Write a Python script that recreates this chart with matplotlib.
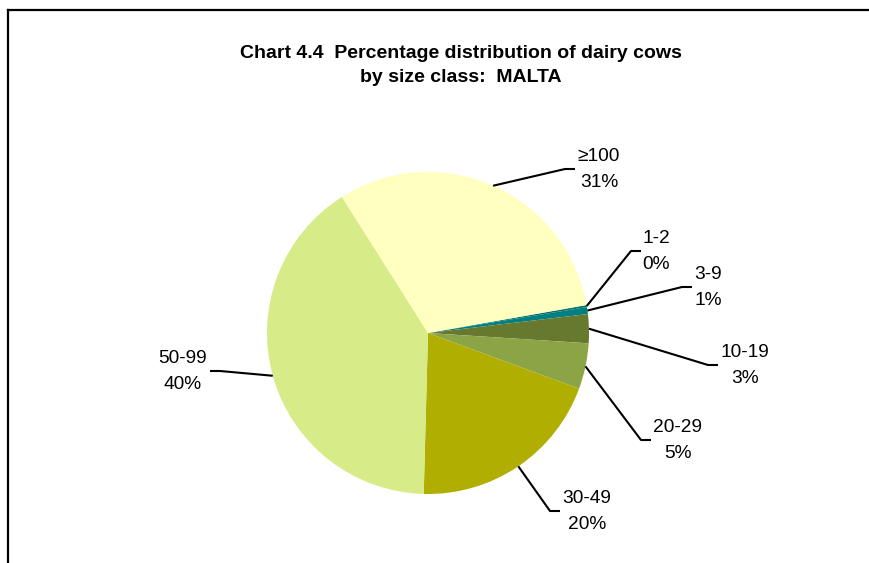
import numpy as np
import matplotlib
matplotlib.use("Agg")
import matplotlib.pyplot as plt
from matplotlib.lines import Line2D

plt.rcParams['font.family'] = ['Liberation Sans', 'DejaVu Sans']

# ---- data ----
categories = ["1-2", "3-9", "10-19", "20-29", "30-49", "50-99", "\u2265100"]
shares = [0.2, 0.7, 2.9, 4.6, 19.8, 40.6, 31.2]
pct_labels = ["0%", "1%", "3%", "5%", "20%", "40%", "31%"]
colors = ["#0b7070", "#008080", "#66792f", "#8ba445", "#b0ae00", "#d7ec88", "#ffffc0"]
title_lines = ["Chart 4.4  Percentage distribution of dairy cows", "by size class:  MALTA"]

# ---- layout (pixel space) ----
W, H = 870, 563
cx, cy, R = 428, 333, 161
# text block centres and side of the leader hook
label_pos = [(656, 251, 'L'), (708, 287, 'L'), (745, 365, 'L'), (678, 440, 'L'),
             (587, 511, 'L'), (183, 371, 'R'), (599, 169, 'L')]
half_w = [13, 14, 25, 25, 25, 25, 22]

fig = plt.figure(figsize=(W / 100, H / 100), dpi=100)
ax = fig.add_axes([0, 0, 1, 1])

wedges, _ = ax.pie(shares, colors=colors, startangle=10, counterclock=False,
                   center=(cx, H - cy), radius=R,
                   wedgeprops=dict(linewidth=0, edgecolor='none'))
ax.set_xlim(0, W)
ax.set_ylim(0, H)
ax.set_aspect('equal')
ax.axis('off')

for w, cat, pct, (tx, ty, side), hw in zip(wedges, categories, pct_labels, label_pos, half_w):
    mid = np.deg2rad((w.theta1 + w.theta2) / 2)
    sx = cx + R * np.cos(mid)
    sy = (H - cy) + R * np.sin(mid)
    if side == 'L':
        hook_end = tx - hw - 2
        elbow = hook_end - 10
    else:
        hook_end = tx + hw + 2
        elbow = hook_end + 10
    ty_d = H - ty
    ax.plot([sx, elbow, hook_end], [sy, ty_d, ty_d], color='black', lw=1.5,
            solid_capstyle='butt', zorder=5)
    ax.text(tx, ty_d + 12.5, cat, ha='center', va='center', fontsize=13.8, color='black')
    ax.text(tx, ty_d - 13.5, pct, ha='center', va='center', fontsize=13.8, color='black')

for i, line in enumerate(title_lines):
    fig.text(461 / W, 1 - (53 + 25 * i) / H, line, ha='center', va='center',
             fontsize=14, fontweight='bold')

# frame
fig.add_artist(Line2D([8 / W, 8 / W], [0, 1 - 10 / H], transform=fig.transFigure,
                      color='black', lw=1.6))
fig.add_artist(Line2D([8 / W, 1], [1 - 10 / H, 1 - 10 / H], transform=fig.transFigure,
                      color='black', lw=1.6))

fig.savefig("out.png", dpi=100)
